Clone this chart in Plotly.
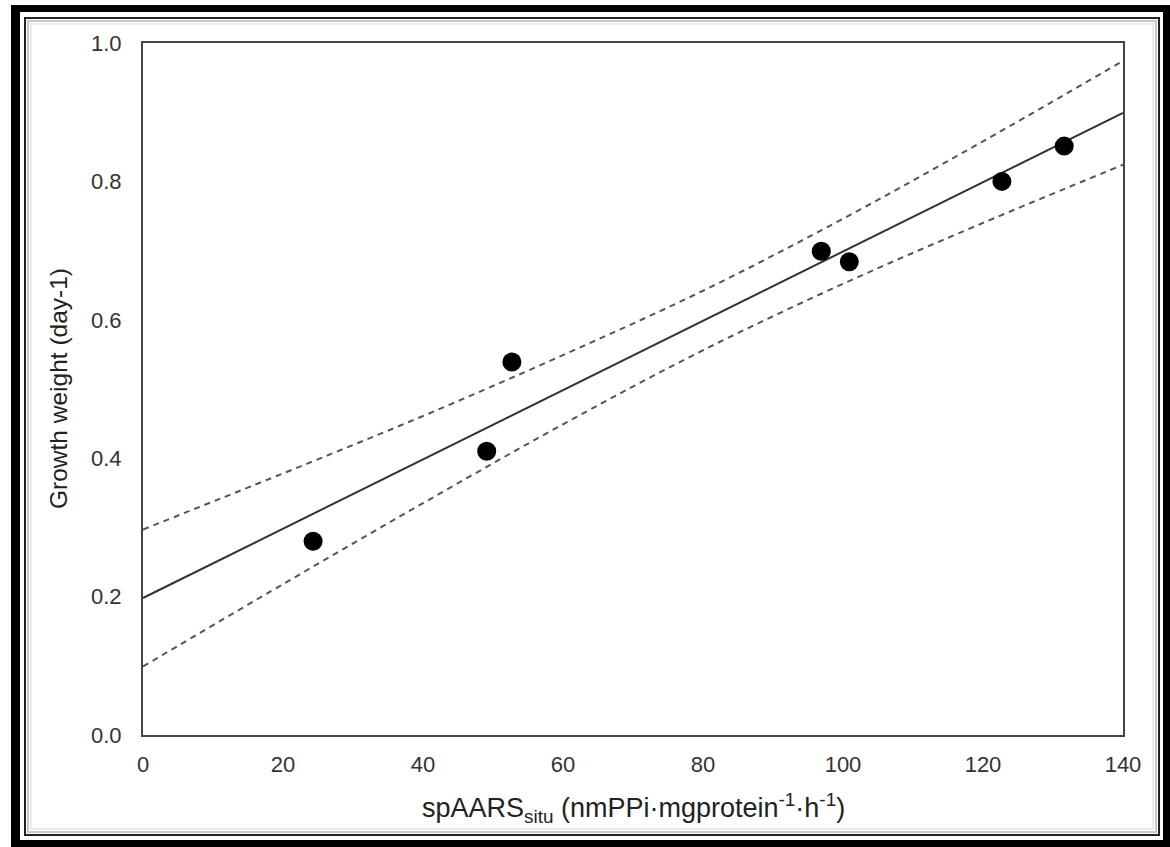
import plotly.graph_objects as go

# ---- data ----
x_points = [24.3, 49.1, 52.7, 96.9, 100.9, 122.7, 131.6]
y_points = [0.280, 0.410, 0.539, 0.699, 0.684, 0.800, 0.851]

fit_x = [0, 140]
fit_y = [0.198, 0.899]

band_x = [0, 20, 40, 60, 80, 100, 120, 140]
upper_y = [0.297, 0.378, 0.461, 0.549, 0.642, 0.746, 0.858, 0.974]
lower_y = [0.099, 0.218, 0.335, 0.449, 0.556, 0.652, 0.740, 0.824]

x_ticks = [0, 20, 40, 60, 80, 100, 120, 140]
y_ticks = [0.0, 0.2, 0.4, 0.6, 0.8, 1.0]
y_tick_text = ["0.0", "0.2", "0.4", "0.6", "0.8", "1.0"]

x_title = "spAARS<sub>situ</sub> (nmPPi·mgprotein<sup>-1</sup>·h<sup>-1</sup>)"
y_title = "Growth weight (day-1)"

W, H = 1170, 847
L, T, R, B = 143, 43, 1123, 735

fig = go.Figure()
dash_style = dict(color="#555555", width=2, dash="6px,5px")
fig.add_trace(go.Scatter(x=band_x, y=upper_y, mode="lines", line=dash_style,
                         line_shape="spline", hoverinfo="skip"))
fig.add_trace(go.Scatter(x=band_x, y=lower_y, mode="lines", line=dash_style,
                         line_shape="spline", hoverinfo="skip"))
fig.add_trace(go.Scatter(x=fit_x, y=fit_y, mode="lines",
                         line=dict(color="#333333", width=2), hoverinfo="skip"))
fig.add_trace(go.Scatter(x=x_points, y=y_points, mode="markers",
                         marker=dict(color="black", size=19, line=dict(width=0))))


def px(x):
    return (x - L) / (R - L)


def py(y):
    return (B - y) / (B - T)


shapes = []
# thick outer frame
for (x0, y0, x1, y1) in [(11, 5, 1170, 12), (11, 840, 1170, 847),
                         (11, 5, 20, 847), (1163, 5, 1170, 847)]:
    shapes.append(dict(type="rect", xref="paper", yref="paper",
                       x0=px(x0), x1=px(x1), y0=py(y0), y1=py(y1),
                       fillcolor="black", line=dict(width=0), layer="above"))
# thin inner frame with soft inner shading
shapes.append(dict(type="rect", xref="paper", yref="paper",
                   x0=px(25), x1=px(1159), y0=py(18), y1=py(835),
                   line=dict(color="#222222", width=2), fillcolor="rgba(0,0,0,0)"))
shapes.append(dict(type="rect", xref="paper", yref="paper",
                   x0=px(28), x1=px(1156), y0=py(21), y1=py(832),
                   line=dict(color="#c8c8c8", width=2), fillcolor="rgba(0,0,0,0)"))
shapes.append(dict(type="rect", xref="paper", yref="paper",
                   x0=px(31), x1=px(1153), y0=py(24), y1=py(829),
                   line=dict(color="#ececec", width=2), fillcolor="rgba(0,0,0,0)"))

font_family = "Liberation Sans, Arial, sans-serif"

annotations = [
    dict(text=x_title, xref="paper", yref="paper", x=px(633), y=py(808),
         xanchor="center", yanchor="middle", showarrow=False,
         font=dict(size=27, color="#222222")),
    dict(text=y_title, xref="paper", yref="paper", x=px(58), y=py(389),
         xanchor="center", yanchor="middle", showarrow=False, textangle=-90,
         font=dict(size=24.5, color="#222222")),
]

fig.update_layout(
    width=W, height=H,
    margin=dict(l=L, r=W - R, t=T, b=H - B),
    paper_bgcolor="white", plot_bgcolor="white",
    showlegend=False,
    shapes=shapes,
    annotations=annotations,
    font=dict(family=font_family, size=22, color="#333333"),
    xaxis=dict(range=[0, 140], tickvals=x_ticks, ticks="", showgrid=False,
               zeroline=False, showline=True, linecolor="#444444", linewidth=2,
               mirror=True, ticklabelstandoff=9,
               tickfont=dict(size=22, color="#333333")),
    yaxis=dict(range=[0, 1.0], tickvals=y_ticks, ticktext=y_tick_text, ticks="",
               showgrid=False, zeroline=False, showline=True, linecolor="#444444",
               linewidth=2, mirror=True, ticklabelstandoff=15,
               tickfont=dict(size=22, color="#333333")),
)

fig.write_html("out.html", config={"displayModeBar": False},
               post_script="document.body.style.margin='0';document.body.style.overflow='hidden';")
